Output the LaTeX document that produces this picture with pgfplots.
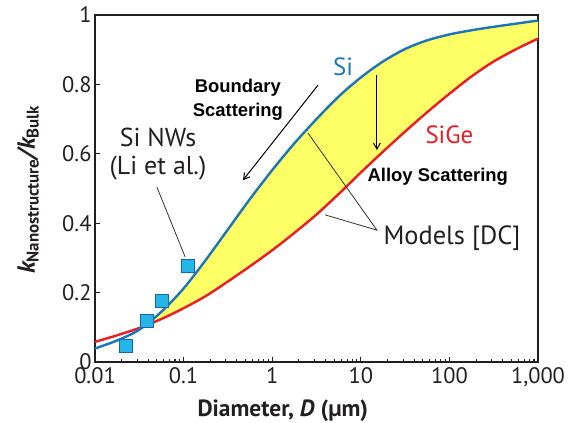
\documentclass[border=0pt]{standalone}
\usepackage{pgfplots}
\pgfplotsset{compat=1.18}
\usepgfplotslibrary{fillbetween}
\usetikzlibrary{arrows.meta}
\usepackage{fontspec}
\setmainfont{PT Sans}
\newfontfamily\arial{Liberation Sans}
\definecolor{siblue}{HTML}{1B75BC}
\definecolor{sigered}{HTML}{ED1C24}
\definecolor{fillyel}{HTML}{FFFF66}
\definecolor{sqfill}{HTML}{27B4E6}
\definecolor{sqedge}{HTML}{1468B0}
\definecolor{txt}{HTML}{231F20}
\pgfplotstableread{
x y
0.01 0.039
0.01778 0.062
0.03162 0.093
0.05623 0.145
0.1 0.212
0.1778 0.294
0.3162 0.382
0.5623 0.470
1 0.553
1.778 0.630
3.162 0.700
5.623 0.765
10 0.820
17.78 0.866
31.62 0.902
56.23 0.927
100 0.944
177.8 0.956
316.2 0.966
562.3 0.975
1000 0.984
}\sidata
\pgfplotstableread{
x y
0.01 0.058
0.01778 0.077
0.03162 0.098
0.05623 0.124
0.1 0.155
0.1778 0.190
0.3162 0.232
0.5623 0.276
1 0.322
1.778 0.372
3.162 0.425
5.623 0.484
10 0.546
17.78 0.606
31.62 0.664
56.23 0.720
100 0.773
177.8 0.823
316.2 0.866
562.3 0.901
1000 0.932
}\sigedata
\begin{document}
\begin{tikzpicture}
\begin{axis}[
  at={(0,0)}, anchor=south west,
  scale only axis, width=443bp, height=347bp,
  xmode=log, xmin=0.01, xmax=1000, ymin=0, ymax=1,
  xtick={0.01,0.1,1,10,100,1000},
  xticklabels={0.01,0.1,1,10,100,{1,000}},
  minor xtick={},
  ytick={0,0.2,0.4,0.6,0.8,1},
  yticklabels={0,0.2,0.4,0.6,0.8,1},
  tick align=inside, tick pos=left,
  major tick length=5bp,
  tick style={txt, line width=1.1bp},
  axis line style={txt, line width=1.3bp},
  ticklabel style={font=\fontsize{22.5}{22.5}\selectfont, text=txt},
  xticklabel style={yshift=-2bp},
  /pgf/number format/assume math mode=true,
  xlabel={\bfseries Diameter, \textit{D} (μm)},
  xlabel style={at={(axis description cs:0.424,0)}, anchor=center, yshift=-49bp, font=\fontsize{23.5}{23.5}\selectfont, text=txt},
  ylabel={\bfseries\itshape k\raisebox{-0.3ex}{\upshape\fontsize{17}{17}\selectfont Nanostructure}/k\raisebox{-0.3ex}{\upshape\fontsize{17}{17}\selectfont Bulk}},
  ylabel style={at={(axis description cs:-0.151,0.496)}, anchor=center, font=\fontsize{25}{25}\selectfont, text=txt},
  clip=false,
]
\addplot[name path=si, draw=none, forget plot] table[x=x,y=y] {\sidata};
\addplot[name path=sige, draw=none, forget plot] table[x=x,y=y] {\sigedata};
\addplot[fillyel, forget plot] fill between[of=si and sige, soft clip={(axis cs:0.04,0) rectangle (axis cs:1000,1)}];
\addplot[sigered, line width=2.4bp, smooth] table[x=x,y=y] {\sigedata};
\addplot[siblue, line width=2.4bp, smooth] table[x=x,y=y] {\sidata};
% annotation lines
\draw[black!80, line width=0.8bp] (axis cs:0.050,0.504) -- (axis cs:0.104,0.303);
\draw[black!80, line width=0.8bp] (axis cs:2.53,0.660) -- (axis cs:15.2,0.380) -- (axis cs:3.95,0.424);
\draw[black, line width=1bp, -{Straight Barb[length=6bp,width=7bp]}] (axis cs:3.29,0.798) -- (axis cs:0.468,0.524);
\draw[black, line width=1bp, -{Straight Barb[length=6bp,width=7bp]}] (axis cs:15.2,0.827) -- (axis cs:15.2,0.611);
\addplot[only marks, mark=square*, mark size=6.5bp, mark options={fill=sqfill, draw=sqedge, line width=1.2bp}] coordinates {
(0.0222,0.046)(0.0384,0.119)(0.0566,0.175)(0.111,0.277)};
% texts
\node[text=siblue, font=\fontsize{25}{25}\selectfont] at (axis cs:6.3,0.850) {Si};
\node[text=sigered, font=\fontsize{25}{25}\selectfont] at (axis cs:100,0.654) {SiGe};
\node[align=center, font=\arial\bfseries\fontsize{18.5}{24}\selectfont] at (axis cs:0.41,0.755) {Boundary\\Scattering};
\node[font=\arial\bfseries\fontsize{18.5}{18.5}\selectfont] at (axis cs:74,0.533) {Alloy Scattering};
\node[text=txt, font=\fontsize{26.5}{26.5}\selectfont] at (axis cs:107,0.357) {Models [DC]};
\node[text=txt, align=center, font=\fontsize{26}{29}\selectfont] at (axis cs:0.0514,0.599) {Si NWs\\(Li et al.)};
\end{axis}
\pgfresetboundingbox
\path[use as bounding box] (-95bp,-61bp) rectangle (480bp,362bp);
\end{tikzpicture}
\end{document}
